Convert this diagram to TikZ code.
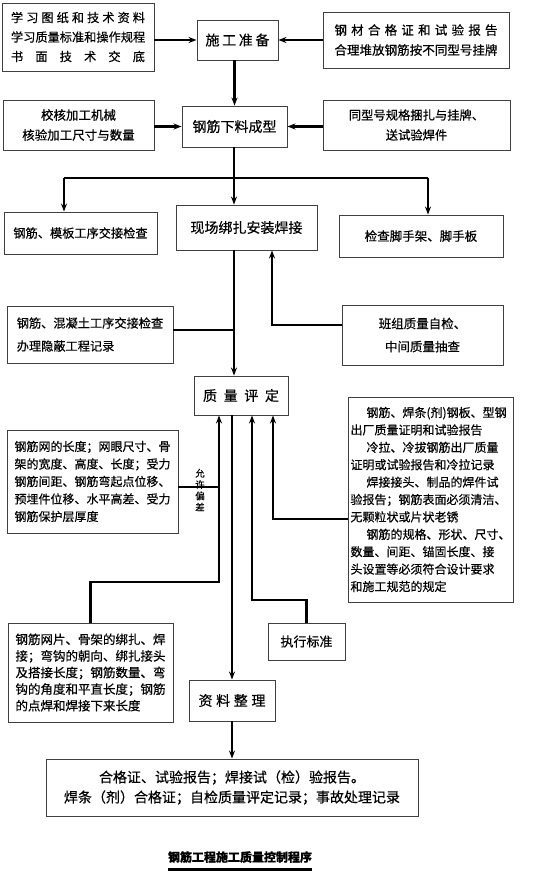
\documentclass[tikz,border=0pt]{standalone}
\usepackage{fontspec}
\setmainfont{Noto Sans CJK SC}[FakeBold=0.4]
\usetikzlibrary{arrows.meta}
\newcommand\spr[2]{\makebox[#1][s]{#2}}
\newcommand\fs[2]{\fontsize{#1}{#2}\selectfont}
\begin{document}
\begin{tikzpicture}[x=1pt,y=-1pt,
  box/.style={draw=black!75, line width=0.9pt, inner sep=0pt, align=center, fill=white},
  sz/.style 2 args={minimum width=#1pt, minimum height=#2pt},
  conn/.style={line width=2.2pt},
  arr/.style={line width=2.2pt, -{Stealth[length=8pt,width=6pt]}}]
\useasboundingbox (0,0) rectangle (554,876);
% boxes
\node[box, sz={152}{68}, font=\fs{12.2}{19.5}] (b1) at (78,37)
  {\spr{134pt}{学\hfill 习\hfill 图\hfill 纸\hfill 和\hfill 技\hfill 术\hfill 资\hfill 料}\\
   \spr{134pt}{学\hfill 习\hfill 质\hfill 量\hfill 标\hfill 准\hfill 和\hfill 操\hfill 作\hfill 规\hfill 程}\\
   \spr{134pt}{书\hfill 面\hfill 技\hfill 术\hfill 交\hfill 底}};
\node[box, sz={81}{40}, font=\fs{14}{16}] (sg) at (237.5,40)
  {\spr{64pt}{施\hfill 工\hfill 准\hfill 备}};
\node[box, sz={186}{56}, font=\fs{12.5}{20}] (b2) at (416,40)
  {\spr{163pt}{钢\hfill 材\hfill 合\hfill 格\hfill 证\hfill 和\hfill 试\hfill 验\hfill 报\hfill 告}\\
   \spr{163pt}{合\hfill 理\hfill 堆\hfill 放\hfill 钢\hfill 筋\hfill 按\hfill 不\hfill 同\hfill 型\hfill 号\hfill 挂\hfill 牌}};
\node[box, sz={105}{41}, font=\fs{14}{16}] (xl) at (234.5,126.5) {钢筋下料成型};
\node[box, sz={151}{50}, font=\fs{12.5}{20}] (b3) at (78.5,125) {校核加工机械\\核验加工尺寸与数量};
\node[box, sz={187}{50}, font=\fs{12.3}{20}] (b4) at (416.5,125) {同型号规格捆扎与挂牌、\\送试验焊件};
\node[box, sz={153}{42}, font=\fs{12.2}{16}] (b5) at (80.5,233) {钢筋、模板工序交接检查};
\node[box, sz={141}{45}, font=\fs{14}{16}] (xc) at (246.5,227.5) {现场绑扎安装焊接};
\node[box, sz={164}{42}, font=\fs{12.5}{16}] (b6) at (421,236) {检查脚手架、脚手板};
\node[box, sz={166}{57}, font=\fs{12.2}{23}, align=left] (b7) at (90,334.5) {钢筋、混凝土工序交接检查\\办理隐蔽工程记录};
\node[box, sz={161}{60}, font=\fs{12.5}{23}] (b8) at (422.5,335) {班组质量自检、\\中间质量抽查};
\node[box, sz={94}{39}, font=\fs{14}{16}] (zl) at (241,395.5)
  {\spr{76pt}{质\hfill 量\hfill 评\hfill 定}};
\node[box, sz={171}{103}, font=\fs{12}{17.5}, align=left] (b9) at (92.5,481.5)
  {钢筋网的长度；网眼尺寸、骨\\架的宽度、高度、长度；受力\\钢筋间距、钢筋弯起点位移、\\预埋件位移、水平高差、受力\\钢筋保护层厚度};
\node[box, sz={165}{205}, font=\fs{12}{17.4}, align=left] (b10) at (430.5,499.5)
  {\hspace*{16pt}钢筋、焊条(剂)钢板、型钢\\出厂质量证明和试验报告\\
   \hspace*{16pt}冷拉、冷拔钢筋出厂质量\\证明或试验报告和冷拉记录\\
   \hspace*{16pt}焊接接头、制品的焊件试\\验报告；钢筋表面必须清洁、\\无颗粒状或片状老锈\\
   \hspace*{16pt}钢筋的规格、形状、尺寸、\\数量、间距、锚固长度、接\\头设置等必须符合设计要求\\和施工规范的规定};
\node[box, sz={165}{99}, font=\fs{12.5}{16.6}, align=left] (b11) at (90.5,672.5)
  {钢筋网片、骨架的绑扎、焊\\接；弯钩的朝向、绑扎接头\\及搭接长度；钢筋数量、弯\\钩的角度和平直长度；钢筋\\的点焊和焊接下来长度};
\node[box, sz={77}{37}, font=\fs{13}{16}] (b12) at (306.5,641.5) {执行标准};
\node[box, sz={86}{41}, font=\fs{14}{16}] (zz) at (232,700.5)
  {\spr{67pt}{资\hfill 料\hfill 整\hfill 理}};
\node[box, sz={372}{57}, font=\fs{14}{20}] (b13) at (232,787.5)
  {合格证、试验报告；焊接试（检）验报告。\\焊条（剂）合格证；自检质量评定记录；事故处理记录};
\node[inner sep=0pt, font=\fs{12}{14}\bfseries] (title) at (240,857) {钢筋工程施工质量控制程序};
\node[inner sep=0pt, align=center, font=\fs{9.5}{11.3}] (yx) at (200,490) {允\\许\\偏\\差};
% underline
\draw[line width=3pt] (title.south west) ++(0,6) coordinate (ul1) -- (ul1 -| title.south east);
% coordinates
\coordinate (br) at (234,178);
\coordinate (brL) at (64,178);
\coordinate (brR) at (428,178);
\coordinate (j1) at (234,330);
\coordinate (k1) at (272,325);
\coordinate (m1) at (219,487);
\coordinate (m2) at (219,582);
\coordinate (n1) at (252,600);
\coordinate (p1) at (273,519);
% connectors
\draw[arr] (b1.east |- sg.west) -- (sg.west);
\draw[arr] (b2.west) -- (sg.east);
\draw[arr] (sg.south -| xl.north) -- (xl.north);
\draw[arr] (b3.east |- xl.west) -- (xl.west);
\draw[arr] (b4.west |- xl.east) -- (xl.east);
\draw[conn] (xl.south -| br) -- (br);
\draw[conn] (brL) -- (brR);
\draw[arr] (brL) -- (brL |- b5.north);
\draw[arr] (br) -- (br |- xc.north);
\draw[arr] (brR) -- (brR |- b6.north);
\draw[arr] (xc.south -| br) -- (br |- zl.north);
\draw[conn] (b7.east |- j1) -- (j1);
\draw[arr] (b8.west |- k1) -- (k1) -- (k1 |- xc.south);
\draw[conn] (b9.east |- m1) -- (m1);
\draw[arr] (b11.north) |- (m2) -- (m2 |- zl.south);
\draw[arr] (zl.south -| zz.north) -- (zz.north);
\draw[arr] (b12.north) |- (n1) -- (n1 |- zl.south);
\draw[arr] (b10.west |- p1) -- (p1) -- (p1 |- zl.south);
\draw[arr] (zz.south) -- (b13.north);
\end{tikzpicture}
\end{document}
